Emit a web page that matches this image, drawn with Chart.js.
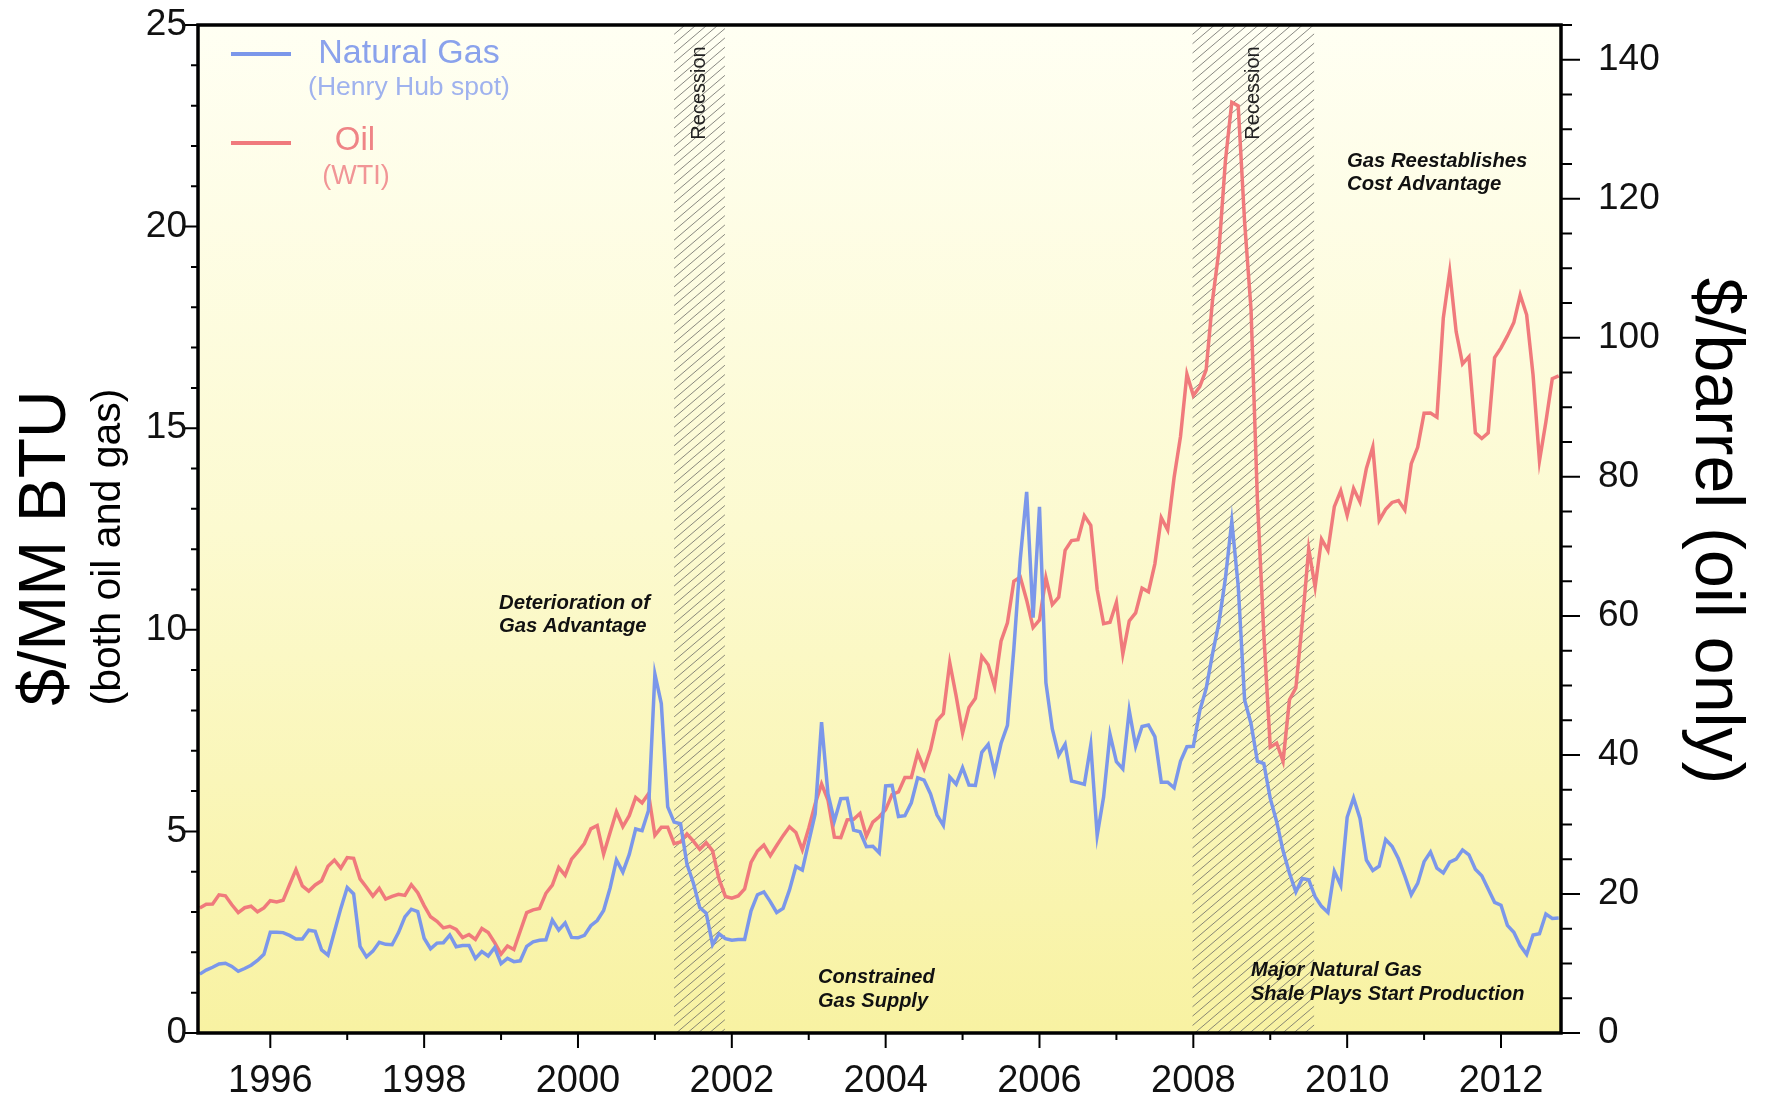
<!DOCTYPE html>
<html lang="en">
<head>
<meta charset="UTF-8">
<title>Natural Gas vs Oil</title>
<script src="https://cdn.jsdelivr.net/npm/chart.js"></script>
<style>
  html, body { margin: 0; padding: 0; background: #fff; }
  #wrap { width: 1767px; height: 1103px; }
</style>
</head>
<body>
<div id="wrap"><canvas id="chart" width="1767" height="1103"></canvas></div>
<script>
// monthly series, Jan 1995 .. Sep 2012
const startYear = 1995;

// Henry Hub spot, $/MMBtu
const gasPrices = [
  1.46, 1.56, 1.63, 1.71, 1.73, 1.65, 1.53, 1.60, 1.68, 1.80, 1.95, 2.50,
  2.50, 2.49, 2.42, 2.33, 2.33, 2.55, 2.52, 2.06, 1.93, 2.51, 3.09, 3.61,
  3.45, 2.15, 1.89, 2.03, 2.25, 2.20, 2.19, 2.49, 2.88, 3.07, 3.01, 2.35,
  2.09, 2.23, 2.24, 2.43, 2.14, 2.17, 2.17, 1.85, 2.02, 1.91, 2.12, 1.72,
  1.85, 1.77, 1.79, 2.15, 2.26, 2.30, 2.31, 2.80, 2.55, 2.73, 2.37, 2.36,
  2.42, 2.66, 2.79, 3.04, 3.59, 4.29, 3.99, 4.43, 5.06, 5.02, 5.52, 8.90,
  8.17, 5.61, 5.23, 5.19, 4.19, 3.72, 3.11, 2.97, 2.19, 2.46, 2.34, 2.30,
  2.32, 2.32, 3.03, 3.43, 3.50, 3.26, 2.99, 3.09, 3.55, 4.13, 4.04, 4.74,
  5.43, 7.71, 5.93, 5.26, 5.81, 5.82, 5.03, 4.99, 4.62, 4.63, 4.47, 6.13,
  6.14, 5.37, 5.39, 5.71, 6.33, 6.27, 5.93, 5.41, 5.15, 6.35, 6.17, 6.58,
  6.15, 6.14, 6.96, 7.16, 6.47, 7.18, 7.63, 9.53, 11.75, 13.42, 10.30, 13.05,
  8.69, 7.54, 6.89, 7.16, 6.25, 6.21, 6.17, 7.14, 4.90, 5.85, 7.41, 6.73,
  6.55, 8.00, 7.11, 7.60, 7.64, 7.35, 6.22, 6.22, 6.08, 6.74, 7.10, 7.11,
  7.99, 8.54, 9.41, 10.18, 11.27, 12.69, 11.09, 8.26, 7.67, 6.74, 6.68, 5.82,
  5.24, 4.52, 3.96, 3.50, 3.83, 3.80, 3.38, 3.14, 2.99, 4.01, 3.66, 5.35,
  5.83, 5.32, 4.29, 4.03, 4.14, 4.80, 4.63, 4.32, 3.89, 3.43, 3.71, 4.25,
  4.49, 4.09, 3.97, 4.24, 4.31, 4.54, 4.42, 4.06, 3.90, 3.57, 3.24, 3.17,
  2.67, 2.50, 2.17, 1.95, 2.43, 2.46, 2.95, 2.84, 2.85
];

// WTI, $/barrel (right axis)
const oilPrices = [
  17.99, 18.53, 18.55, 19.87, 19.74, 18.45, 17.33, 18.02, 18.23, 17.43, 17.99, 19.03,
  18.85, 19.09, 21.33, 23.50, 21.17, 20.42, 21.30, 21.90, 23.97, 24.88, 23.71, 25.23,
  25.13, 22.18, 20.97, 19.70, 20.82, 19.26, 19.66, 19.95, 19.80, 21.33, 20.19, 18.33,
  16.72, 16.06, 15.12, 15.35, 14.91, 13.72, 14.17, 13.47, 15.03, 14.46, 13.00, 11.35,
  12.52, 12.01, 14.68, 17.31, 17.72, 17.92, 20.10, 21.28, 23.80, 22.69, 25.00, 26.10,
  27.26, 29.37, 29.84, 25.72, 28.79, 31.82, 29.70, 31.26, 33.88, 33.11, 34.42, 28.44,
  29.59, 29.61, 27.24, 27.49, 28.63, 27.60, 26.43, 27.37, 26.20, 22.17, 19.64, 19.39,
  19.72, 20.72, 24.53, 26.18, 27.04, 25.52, 26.97, 28.39, 29.66, 28.84, 26.35, 29.46,
  32.95, 35.83, 33.51, 28.17, 28.11, 30.66, 30.75, 31.57, 28.31, 30.34, 31.11, 32.13,
  34.31, 34.69, 36.74, 36.75, 40.28, 38.03, 40.78, 44.90, 45.94, 53.28, 48.47, 43.15,
  46.84, 48.15, 54.19, 52.98, 49.83, 56.35, 59.00, 64.99, 65.59, 62.26, 58.32, 59.41,
  65.49, 61.63, 62.69, 69.44, 70.84, 70.95, 74.41, 73.04, 63.80, 58.89, 59.08, 61.96,
  54.51, 59.28, 60.44, 63.98, 63.46, 67.49, 74.12, 72.36, 79.92, 85.80, 94.77, 91.69,
  92.97, 95.39, 105.45, 112.58, 125.40, 133.88, 133.37, 116.67, 104.11, 76.61, 57.31, 41.12,
  41.71, 39.09, 47.94, 49.65, 59.03, 69.64, 64.15, 71.05, 69.41, 75.72, 77.99, 74.47,
  78.33, 76.39, 81.20, 84.29, 73.74, 75.34, 76.32, 76.60, 75.24, 81.89, 84.25, 89.15,
  89.17, 88.58, 102.86, 109.53, 100.90, 96.26, 97.30, 86.33, 85.52, 86.32, 97.16, 98.56,
  100.27, 102.20, 106.16, 103.32, 94.65, 82.30, 87.90, 94.13, 94.51
];

const yearTicks = [1996, 1998, 2000, 2002, 2004, 2006, 2008, 2010, 2012];
const btuTicks = [0, 5, 10, 15, 20, 25];
const barrelTicks = [0, 20, 40, 60, 80, 100, 120, 140];
const recessions = [[2001.25, 2001.91], [2007.99, 2009.57]];

// each month is plotted at its month end
const toPoints = arr => arr.map((v, i) => ({ x: startYear + (i + 1) / 12, y: v }));

const FONT = '"Liberation Sans", Arial, Helvetica, sans-serif';
const GAS = '#7b97ea';
const OIL = '#f07a7c';

// keep label padding from pushing the plot area down
const noVPad = s => { s.paddingTop = 0; s.paddingBottom = 0; };

const decorations = {
  id: 'decorations',
  beforeDraw(chart) {
    const { ctx, chartArea: a, scales } = chart;
    ctx.save();
    ctx.fillStyle = '#fff';
    ctx.fillRect(0, 0, chart.width, chart.height);
    const g = ctx.createLinearGradient(0, a.top, 0, a.bottom);
    g.addColorStop(0, '#fffff3');
    g.addColorStop(0.5, '#fcfad0');
    g.addColorStop(1, '#f8f2a2');
    ctx.fillStyle = g;
    ctx.fillRect(a.left, a.top, a.width, a.height);

    // hatched recession bands
    recessions.forEach(([s, e]) => {
      const x0 = scales.x.getPixelForValue(s);
      const x1 = scales.x.getPixelForValue(e);
      ctx.save();
      ctx.beginPath();
      ctx.rect(x0, a.top, x1 - x0, a.height);
      ctx.clip();
      ctx.strokeStyle = '#6a6a66';
      ctx.lineWidth = 0.8;
      const slope = 0.85;
      const run = a.height / slope;
      ctx.beginPath();
      for (let k = x0 - run; k < x1 + 10; k += 11) {
        ctx.moveTo(k, a.bottom);
        ctx.lineTo(k + run, a.top);
      }
      ctx.stroke();
      ctx.restore();

      ctx.save();
      ctx.translate((x0 + x1) / 2, a.top + 68);
      ctx.rotate(-Math.PI / 2);
      ctx.fillStyle = '#222';
      ctx.font = '20px ' + FONT;
      ctx.textAlign = 'center';
      ctx.textBaseline = 'middle';
      ctx.fillText('Recession', 0, 0);
      ctx.restore();
    });
    ctx.restore();
  },
  afterDraw(chart) {
    const { ctx, chartArea: a, scales } = chart;
    ctx.save();

    // frame
    ctx.strokeStyle = '#000';
    ctx.lineWidth = 3.5;
    ctx.strokeRect(a.left, a.top, a.width, a.height);

    // tick marks
    ctx.lineWidth = 2;
    ctx.beginPath();
    for (let v = 0; v <= 25; v++) {
      const y = scales.y.getPixelForValue(v);
      const len = v % 5 === 0 ? 13 : 7;
      ctx.moveTo(a.left - len, y);
      ctx.lineTo(a.left, y);
    }
    for (let v = 0; v <= 145; v += 5) {
      const y = scales.y1.getPixelForValue(v);
      const len = v % 20 === 0 ? 19 : 11;
      ctx.moveTo(a.right, y);
      ctx.lineTo(a.right + len, y);
    }
    for (let yr = 1996; yr <= 2012; yr++) {
      const x = scales.x.getPixelForValue(yr);
      const len = yr % 2 === 0 ? 15 : 7;
      ctx.moveTo(x, a.bottom);
      ctx.lineTo(x, a.bottom + len);
    }
    ctx.stroke();

    // axis titles
    const midY = (a.top + a.bottom) / 2;
    ctx.fillStyle = '#000';
    ctx.textAlign = 'center';
    ctx.textBaseline = 'middle';
    ctx.save();
    ctx.translate(47, midY + 19);
    ctx.rotate(-Math.PI / 2);
    ctx.font = '66px ' + FONT;
    ctx.fillText('$/MM BTU', 0, 0);
    ctx.restore();
    ctx.save();
    ctx.translate(109, midY + 18);
    ctx.rotate(-Math.PI / 2);
    ctx.font = '41px ' + FONT;
    ctx.fillText('(both oil and gas)', 0, 0);
    ctx.restore();
    ctx.save();
    ctx.translate(1715, midY + 2);
    ctx.rotate(Math.PI / 2);
    ctx.font = '68px ' + FONT;
    ctx.fillText('$/barrel (oil only)', 0, 0);
    ctx.restore();

    // legend
    ctx.lineWidth = 4;
    ctx.strokeStyle = GAS;
    ctx.beginPath(); ctx.moveTo(231, 54); ctx.lineTo(291, 54); ctx.stroke();
    ctx.strokeStyle = OIL;
    ctx.beginPath(); ctx.moveTo(231, 143); ctx.lineTo(291, 143); ctx.stroke();
    ctx.fillStyle = '#8aa2ec';
    ctx.font = '34px ' + FONT;
    ctx.fillText('Natural Gas', 409, 54);
    ctx.fillStyle = '#9fb2ee';
    ctx.font = '26.5px ' + FONT;
    ctx.fillText('(Henry Hub spot)', 409, 88);
    ctx.fillStyle = '#ef8486';
    ctx.font = '33px ' + FONT;
    ctx.fillText('Oil', 355, 141);
    ctx.fillStyle = '#f19596';
    ctx.font = '27px ' + FONT;
    ctx.fillText('(WTI)', 356, 177);

    // annotations
    ctx.fillStyle = '#111';
    ctx.textAlign = 'left';
    ctx.font = 'italic bold 20.3px ' + FONT;
    ctx.fillText('Deterioration of', 499, 603);
    ctx.fillText('Gas Advantage', 499, 626);
    ctx.fillText('Gas Reestablishes', 1347, 161);
    ctx.fillText('Cost Advantage', 1347, 184);
    ctx.font = 'italic bold 20px ' + FONT;
    ctx.fillText('Constrained', 818, 977);
    ctx.fillText('Gas Supply', 818, 1001);
    ctx.fillText('Major Natural Gas', 1251, 970);
    ctx.fillText('Shale Plays Start Production', 1251, 994);

    ctx.restore();
  }
};

new Chart(document.getElementById('chart'), {
  type: 'line',
  data: {
    datasets: [
      {
        label: 'Natural Gas',
        data: toPoints(gasPrices),
        yAxisID: 'y',
        borderColor: GAS,
        borderWidth: 3.5,
        pointRadius: 0,
        tension: 0
      },
      {
        label: 'Oil',
        data: toPoints(oilPrices),
        yAxisID: 'y1',
        borderColor: OIL,
        borderWidth: 3.5,
        pointRadius: 0,
        tension: 0
      }
    ]
  },
  options: {
    responsive: false,
    animation: false,
    devicePixelRatio: 1,
    layout: { autoPadding: false, padding: { top: 25, left: 0, right: 0, bottom: 0 } },
    plugins: {
      legend: { display: false },
      tooltip: { enabled: false }
    },
    scales: {
      x: {
        type: 'linear',
        position: 'bottom',
        min: 1995.06,
        max: 2012.78,
        grid: { display: false, drawTicks: false },
        border: { display: false },
        afterBuildTicks: s => { s.ticks = yearTicks.map(v => ({ value: v })); },
        afterFit: s => { s.height = 70; s.paddingLeft = 0; s.paddingRight = 0; },
        ticks: {
          autoSkip: false,
          maxRotation: 0,
          padding: 26,
          color: '#111',
          font: { family: FONT, size: 38 },
          callback: v => String(v)
        }
      },
      y: {
        position: 'left',
        min: 0,
        max: 25,
        grid: { display: false, drawTicks: false },
        border: { display: false },
        afterBuildTicks: s => { s.ticks = btuTicks.map(v => ({ value: v })); },
        afterFit: s => { s.width = 198; noVPad(s); },
        ticks: {
          padding: 11,
          color: '#111',
          font: { family: FONT, size: 37 },
          callback: v => String(v)
        }
      },
      y1: {
        position: 'right',
        min: 0,
        max: 145,
        grid: { display: false, drawTicks: false },
        border: { display: false },
        afterBuildTicks: s => { s.ticks = barrelTicks.map(v => ({ value: v })); },
        afterFit: s => { s.width = 206; noVPad(s); },
        ticks: {
          padding: 37,
          color: '#111',
          font: { family: FONT, size: 37 },
          callback: v => String(v)
        }
      }
    }
  },
  plugins: [decorations]
});
</script>
</body>
</html>
